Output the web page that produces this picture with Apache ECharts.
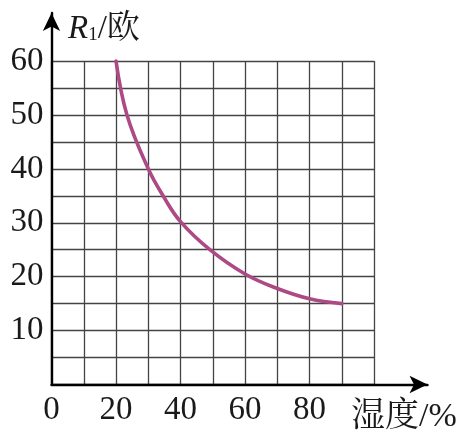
<!DOCTYPE html>
<html><head><meta charset="utf-8">
<style>html,body{margin:0;padding:0;background:#fff}#c{width:463px;height:442px}</style>
<script src="https://cdn.jsdelivr.net/npm/echarts@6/dist/echarts.min.js"></script>
</head><body><div id="c"></div>
<script>
const humidity = [20, 23.4, 30, 34.6, 40, 49.1, 60, 70, 80, 90];
const resistance = [60, 50, 40, 35, 30.2, 25, 20.5, 17.8, 15.9, 15];
const xTickLabels = [0, 20, 40, 60, 80];
const yTickLabels = [10, 20, 30, 40, 50, 60];
const xName = '湿度/%';
const serif = '"Liberation Serif","Noto Serif CJK SC","Noto Sans CJK SC",serif';

const chart = echarts.init(document.getElementById('c'), null, {renderer: 'canvas'});
chart.setOption({
  backgroundColor: '#fff',
  animation: false,
  title: [
    {left: 63, top: 8, text: '{r|R}{s|1}{t|/欧}', textStyle: {rich: {
      r: {fontFamily: serif, fontStyle: 'italic', fontWeight: 'normal', fontSize: 33, color: '#1a1a1a'},
      s: {fontFamily: serif, fontWeight: 'normal', fontSize: 19, color: '#1a1a1a', padding: [12, 0, 0, 0]},
      t: {fontFamily: serif, fontWeight: 'normal', fontSize: 33, color: '#1a1a1a'}
    }}},
    {left: 346, top: 395, text: xName, textStyle: {fontFamily: serif, fontSize: 34, fontWeight: 'normal', color: '#1a1a1a'}}
  ],
  grid: [
    {left: 51.5, top: 61, width: 322.5, height: 323.5},
    {left: 51.5, top: 13, width: 376, height: 371.5}
  ],
  xAxis: [
    {gridIndex: 0, type: 'value', min: 0, max: 100, interval: 10,
      axisLine: {show: false}, axisTick: {show: false},
      axisLabel: {margin: 9, fontFamily: serif, fontSize: 33, color: '#1a1a1a',
        showMaxLabel: false,
        formatter: v => xTickLabels.includes(v) ? String(v) : ''},
      splitLine: {show: true, lineStyle: {color: '#444', width: 1.3}}},
    {gridIndex: 1, type: 'value', min: 0, max: 1, axisLabel: {show: false}, axisTick: {show: false}, splitLine: {show: false},
      axisLine: {show: true, symbol: ['none', 'arrow'], symbolSize: [13, 18], lineStyle: {color: '#000', width: 2.4}}}
  ],
  yAxis: [
    {gridIndex: 0, type: 'value', min: 0, max: 60, interval: 5,
      axisLine: {show: false}, axisTick: {show: false},
      axisLabel: {margin: 8, fontFamily: serif, fontSize: 33, color: '#1a1a1a',
        formatter: v => yTickLabels.includes(v) ? String(v) : ''},
      splitLine: {show: true, lineStyle: {color: '#444', width: 1.3}}},
    {gridIndex: 1, type: 'value', min: 0, max: 1, axisLabel: {show: false}, axisTick: {show: false}, splitLine: {show: false},
      axisLine: {show: true, symbol: ['none', 'arrow'], symbolSize: [13, 18], lineStyle: {color: '#000', width: 2.4}}}
  ],
  series: [{
    type: 'line', xAxisIndex: 0, yAxisIndex: 0, z: 5,
    data: humidity.map((x, i) => [x, resistance[i]]),
    smooth: 0.4, symbol: 'none', clip: false,
    lineStyle: {color: '#ad4a85', width: 3.6, cap: 'round'}
  }]
});
</script></body></html>
